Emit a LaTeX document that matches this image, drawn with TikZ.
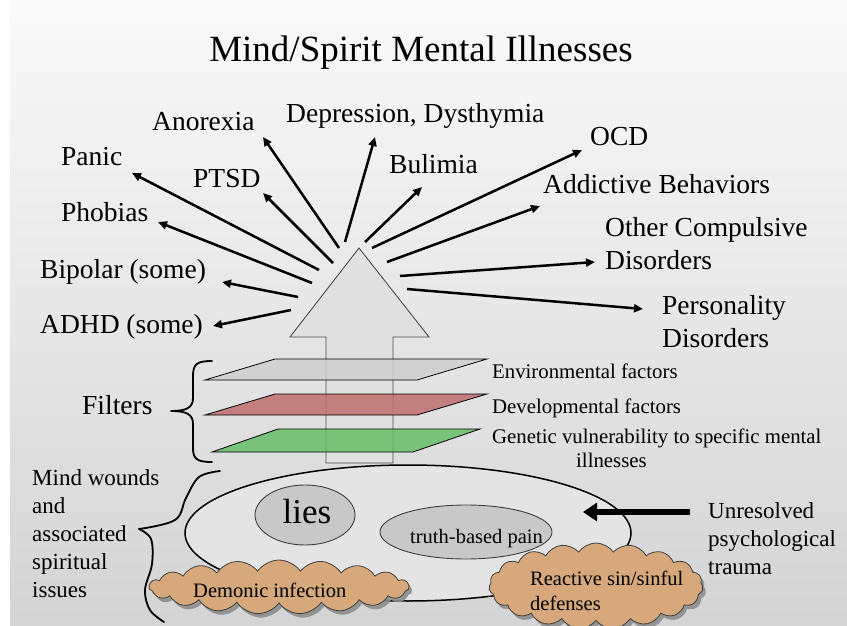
\documentclass[tikz,border=0pt]{standalone}
\usepackage{fontspec}
\setmainfont{Liberation Serif}
\usetikzlibrary{arrows.meta,shapes.symbols,shapes.geometric,shadows}
\definecolor{cloudtan}{RGB}{214,168,124}
\definecolor{planegray}{RGB}{206,206,206}
\definecolor{planered}{RGB}{190,110,110}
\definecolor{planegreen}{RGB}{104,190,104}
\definecolor{arrowfill}{RGB}{224,224,224}
\definecolor{mindfill}{RGB}{228,228,228}
\definecolor{bubblefill}{RGB}{200,200,200}
\begin{document}
\begin{tikzpicture}[x=1pt,y=-1pt,
  lbl/.style={anchor=base west, inner sep=0pt, font=\fontsize{27.5}{33}\selectfont, align=left},
  ray/.style={line width=2.5pt, -{Triangle[length=9pt,width=8pt]}},
  plane/.style={draw=black, line width=0.8pt, fill opacity=0.85},
  factor/.style={anchor=base west, inner sep=0pt, font=\fontsize{20.8}{24}\selectfont, align=left},
  side/.style={anchor=base west, inner sep=0pt, font=\fontsize{23}{28}\selectfont, align=left},
  puff/.style={cloud, cloud puffs=19, cloud puff arc=110, cloud ignores aspect, draw=black!75, line width=0.8pt, fill=cloudtan,
    drop shadow={shadow xshift=3pt, shadow yshift=-4pt, fill=black!45, opacity=0.9}, inner sep=0pt},
  cloudtext/.style={anchor=base west, inner sep=0pt, font=\fontsize{20.5}{25}\selectfont, align=left},
  bubble/.style={ellipse, draw=black!75, line width=0.9pt, fill=bubblefill, inner sep=0pt},
  brace/.style={line width=1.8pt, line cap=round, line join=round}
]
\useasboundingbox (0,0) rectangle (847,626);
% background
\fill[white] (0,0) rectangle (847,626);
\shade[top color=white!98!black, bottom color=black!17] (10,0) rectangle (847,626);

% title
\node[anchor=base, inner sep=0pt, font=\fontsize{37}{44}\selectfont] (title) at (421,62) {Mind/Spirit Mental Illnesses};

% mind ellipse and contents
\node[ellipse, draw=black, line width=1.5pt, fill=mindfill, minimum width=446pt, minimum height=136pt, inner sep=0pt] (mind) at (408,533) {};
\node[bubble, minimum width=100pt, minimum height=60pt] (liesb) at (305,515) {};
\node[inner sep=0pt, anchor=base, font=\fontsize{35}{40}\selectfont] (lies) at (307,523) {lies};
\node[bubble, minimum width=172pt, minimum height=54pt] (truthb) at (466,532) {};
\node[inner sep=0pt, anchor=base west, font=\fontsize{20.5}{25}\selectfont] (truth) at (410,543) {truth-based pain};

% big arrow
\draw[draw=black!70, line width=0.9pt, fill=arrowfill] (359,248) -- (429,337) -- (393,337) -- (393,463) -- (326,463) -- (326,337) -- (290,337) -- cycle;

% filter planes
\path[plane, fill=planegray] (205,380) -- (275,359) -- (487,359) -- (417,380) -- cycle;
\path[plane, fill=planered] (205,415) -- (275,394) -- (487,394) -- (417,415) -- cycle;
\path[plane, fill=planegreen] (212,452) -- (278,429) -- (480,429) -- (413,452) -- cycle;

% braces
\draw[brace] (212,361) .. controls (197,361) and (193,364) .. (193,376) -- (193,398) .. controls (193,408) and (186,411) .. (171,411) .. controls (186,411) and (193,414) .. (193,424) -- (193,448) .. controls (193,459) and (197,462) .. (212,462);
\draw[brace] plot[smooth, tension=0.6] coordinates {(220,471) (199,477) (186,498) (175,520) (139,529)};
\draw[brace] plot[smooth, tension=0.6] coordinates {(139,529) (151,539) (152,564) (145,590) (150,610) (164,622)};

% ray end points
\coordinate (tAn) at (339,248); \coordinate (hAn) at (263,137);
\coordinate (tDe) at (345,242); \coordinate (hDe) at (375,137);
\coordinate (tBu) at (365,242); \coordinate (hBu) at (422,187);
\coordinate (tOC) at (372,248); \coordinate (hOC) at (582,150);
\coordinate (tAd) at (387,262); \coordinate (hAd) at (540,206);
\coordinate (tOt) at (400,276); \coordinate (hOt) at (595,262);
\coordinate (tPe) at (407,289); \coordinate (hPe) at (643,309);
\coordinate (tPT) at (333,263); \coordinate (hPT) at (263,193);
\coordinate (tPa) at (319,270); \coordinate (hPa) at (132,173);
\coordinate (tPh) at (312,283); \coordinate (hPh) at (158,222);
\coordinate (tBi) at (298,297); \coordinate (hBi) at (222,282);
\coordinate (tAD) at (291,310); \coordinate (hAD) at (213,326);
\foreach \k in {An,De,Bu,OC,Ad,Ot,Pe,PT,Pa,Ph,Bi,AD} {\draw[ray] (t\k) -- (h\k);}

% labels (multi-line nodes: anchor on last baseline)
\node[lbl] (anorexia) at (152,131) {Anorexia};
\node[lbl] (depression) at (286,123) {Depression, Dysthymia};
\node[lbl] (panic) at (61,165) {Panic};
\node[lbl] (ptsd) at (193,187) {PTSD};
\node[lbl] (bulimia) at (389,173) {Bulimia};
\node[lbl] (ocd) at (590,146) {OCD};
\node[lbl] (addictive) at (543,193) {Addictive Behaviors};
\node[lbl] (other) at (605,269) {Other Compulsive\\Disorders};
\node[lbl] (phobias) at (61,221) {Phobias};
\node[lbl] (bipolar) at (40,278) {Bipolar (some)};
\node[lbl] (adhd) at (40,333) {ADHD (some)};
\node[lbl] (personality) at (662,347) {Personality\\Disorders};
\node[lbl] (filters) at (82,414) {Filters};

% factor labels
\node[factor] (env) at (492,378) {Environmental factors};
\node[factor] (dev) at (492,413) {Developmental factors};
\node[factor] (gen) at (492,467) {Genetic vulnerability to specific mental\\\hspace*{84pt}illnesses};

% side texts
\node[side] (wounds) at (32,597) {Mind wounds\\and\\associated\\spiritual\\issues};
\node[side] (unresolved) at (708,574) {Unresolved\\psychological\\trauma};

% unresolved arrow
\coordinate (uStart) at (690,512);
\coordinate (uEnd) at (583,512);
\draw[line width=6pt, -{Triangle[length=14pt,width=18pt]}] (uStart) -- (uEnd);

% clouds
\node[puff, minimum width=260pt, minimum height=54pt] (demonic) at (279,587) {};
\node[cloudtext] (demonictext) at (193,597) {Demonic infection};
\node[puff, minimum width=214pt, minimum height=86pt] (reactive) at (596,586) {};
\node[cloudtext] (reactivetext) at (530,610) {Reactive sin/sinful\\defenses};
\end{tikzpicture}
\end{document}
